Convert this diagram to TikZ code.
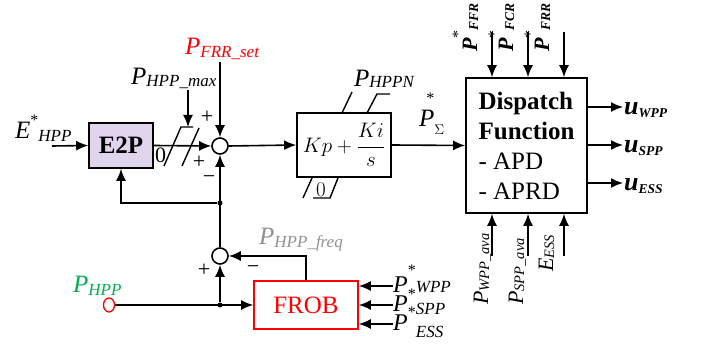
\documentclass[tikz,border=0pt]{standalone}
\usepackage{fix-cm}
\usepackage[no-math]{fontspec}
\setmainfont{Liberation Serif}
\usetikzlibrary{arrows.meta,positioning,shapes.geometric}

\definecolor{e2pfill}{RGB}{225,213,238}
\definecolor{frrred}{RGB}{255,0,0}
\definecolor{hppgreen}{RGB}{0,176,80}
\definecolor{freqgray}{RGB}{145,145,145}

% small sub- and superscripts
\newcommand\ssub[2][-3pt]{\raisebox{#1}{\fontsize{17}{17}\selectfont #2}}
\newcommand\tsub[2][-1pt]{\raisebox{#1}{\fontsize{13.5}{14}\selectfont #2}}
\newcommand\sstar[1][11pt]{\raisebox{#1}{\fontsize{16}{16}\selectfont *}}

\tikzset{
    blk/.style={draw, line width=1.6pt, inner sep=0pt},
    sumnode/.style={circle, draw, line width=1.6pt, minimum size=16pt, inner sep=0pt},
    sig/.style={line width=1.6pt, -{Latex[length=12pt,width=10pt]}},
    wire/.style={line width=1.4pt},
    lbl/.style={inner sep=0pt, font=\fontsize{25}{25}\selectfont},
    rlbl/.style={inner sep=0pt, rotate=90, anchor=base west, font=\fontsize{22}{22}\selectfont},
    signtxt/.style={inner sep=0pt, font=\fontsize{22}{22}\selectfont},
    jdot/.style={circle, fill, minimum size=5pt, inner sep=0pt},
}

\begin{document}
\begin{tikzpicture}[x=1pt, y=-1pt]
    \useasboundingbox (0,0) rectangle (702,344);
    % Blocks
    \node[blk, fill=e2pfill, minimum width=64pt, minimum height=45pt,
          font=\fontsize{25}{25}\selectfont\bfseries] (e2p) at (121,145.5) {E2P};
    \node[sumnode] (sum1) at (220,146) {};
    \node[blk, minimum width=94pt, minimum height=64pt,
          font=\fontsize{21}{21}\selectfont] (pi) at (344,145) {$\displaystyle Kp+\frac{Ki}{s}$};
    \node[blk, minimum width=121pt, minimum height=135pt, align=left,
          font=\fontsize{25}{30}\selectfont] (disp) at (526.5,145.5)
          {\textbf{Dispatch}\\\textbf{Function}\\- APD\\- APRD};
    \node[sumnode] (sum2) at (220,256) {};
    \node[blk, draw=frrred, text=frrred, minimum width=104pt, minimum height=48pt,
          font=\fontsize{25}{25}\selectfont] (frob) at (306,305) {FROB};
    \node[ellipse, draw=frrred, line width=1.3pt, minimum width=11pt,
          minimum height=14pt, inner sep=0pt] (hpp) at (109,305) {};
    % Junctions and free ends
    \node[jdot] (fdot) at (220,203) {};
    \node[jdot] (hdot) at (220,305) {};
    \coordinate (ein) at (52,146);
    \coordinate (frrtop) at (220,62);
    \coordinate (maxtop) at (188,90);
    \coordinate (maxend) at (188,127);
    % Upper loop
    \draw[sig] (ein) -- (e2p.west);
    \draw[sig] (e2p.east) -- (sum1.west);
    \draw[sig] (frrtop) -- (sum1.north);
    \draw[sig] (maxtop) -- (maxend);
    \draw[sig] (sum2.north) -- (sum1.south);
    \draw[sig] (fdot) -| (e2p.south);
    \draw[sig] (sum1.east) -- (pi.west);
    \draw[sig] (pi.east) -- (disp.west);
    % Limiter
    \draw[wire] (164,166) -- (181,127) -- (maxend) -- (193,127);
    \draw[wire] (182,166) -- (199,128);
    \node[signtxt] (zero1) at (160.5,155.5) {0};
    \draw[wire] (342,113) -- (352,92);
    \draw[wire] (367,113) -- (377,94) -- (390,94);
    \draw[wire] (303,198) -- (312,178);
    \draw[wire] (313,198) -- (330,198) -- (338,178);
    \node[signtxt, font=\fontsize{21}{21}\selectfont] (zero2) at (321,190) {$0$};
    % Lower loop
    \draw[sig] (hpp.east) -- (frob.west);
    \draw[sig] (hdot) -- (sum2.south);
    \draw[sig] (frob.north) |- (sum2.east);
    \foreach \y/\n in {286/pw,305/ps,324/pe}{
        \coordinate (\n) at (393,\y);
        \draw[sig] (\n) -- (\n -| frob.east);
    }
    % Dispatch inputs and outputs
    \foreach \x/\n in {492/ffr,528/fcr,564/frr}{
        \coordinate (\n) at (\x,32);
        \draw[sig] (\n) -- (\n |- disp.north);
        \coordinate (\n b) at (\x,256);
        \draw[sig] (\n b) -- (\n b |- disp.south);
    }
    \foreach \y/\n in {107/uw,145/us,183/ue}{
        \coordinate (\n) at (623,\y);
        \draw[sig] (\n -| disp.east) -- (\n);
    }
    % Signs
    \node[signtxt] (p1) at (207,117) {+};
    \node[signtxt] (p2) at (199,162) {+};
    \node[signtxt] (m1) at (209,180) {−};
    \node[signtxt] (p3) at (204,270) {+};
    \node[signtxt] (m2) at (253,270) {−};
    % Labels
    \node[lbl, anchor=base west] (lE) at (15,139) {\textit{E}\sstar[13.5pt]\ssub{\textit{HPP}}};
    \node[lbl, anchor=base west] (lmax) at (131,85) {\textit{P}\ssub[-2pt]{\textit{HPP\_max}}};
    \node[lbl, anchor=base west, text=frrred] (lfrr) at (185,55) {\textit{P}\ssub{\textit{FRR\_set}}};
    \node[lbl, anchor=base west] (lhppn) at (354,87) {\textit{P}\ssub[-1pt]{\textit{HPPN}}};
    \node[lbl, anchor=base west] (lsum) at (419,127)
        {\textit{P}\llap{\raisebox{23pt}{\fontsize{16}{16}\selectfont *}}\raisebox{-8pt}{\fontsize{14}{14}\selectfont$\Sigma$}};
    \node[lbl, anchor=base west, text=hppgreen] (lhpp) at (73,293) {\textit{P}\ssub{\textit{HPP}}};
    \node[lbl, anchor=base west, text=freqgray] (lfreq) at (259,245) {\textit{P}\ssub{\textit{HPP\_freq}}};
    \node[lbl, anchor=base west, font=\fontsize{24}{24}\selectfont] (lpw) at (393,293)
        {\textit{P}\sstar[17pt]\ssub[0pt]{\textit{WPP}}};
    \node[lbl, anchor=base west, font=\fontsize{24}{24}\selectfont] (lps) at (393,312)
        {\textit{P}\sstar[12.5pt]\ssub{\textit{SPP}}};
    \node[lbl, anchor=base west, font=\fontsize{24}{24}\selectfont] (lpe) at (393,331)
        {\textit{P}\sstar[13.5pt]\ssub[-7pt]{\textit{ESS}}};
    \node[rlbl] (lffr) at (477,52) {\textbf{\textit{P}}\sstar[14pt]\tsub{\textbf{\textit{FFR}}}};
    \node[rlbl] (lfcr) at (513,52) {\textbf{\textit{P}}\sstar[14pt]\tsub{\textbf{\textit{FCR}}}};
    \node[rlbl] (lfrr) at (549,52) {\textbf{\textit{P}}\sstar[14pt]\tsub{\textbf{\textit{FRR}}}};
    \node[rlbl] (lwa) at (488,305) {\textit{P}\tsub[-1pt]{\fontsize{14.5}{15}\selectfont\textit{WPP\_ava}}};
    \node[rlbl] (lsa) at (523,305) {\textit{P}\tsub[-1pt]{\fontsize{14.5}{15}\selectfont\textit{SPP\_ava}}};
    \node[rlbl] (lea) at (553,272) {\textit{E}\tsub[-1pt]{\fontsize{14.5}{15}\selectfont\textit{ESS}}};
    \node[lbl, anchor=base west, font=\fontsize{26}{26}\selectfont] (luw) at (624,115)
        {\textbf{\textit{u}}\tsub[-3pt]{\textbf{\textit{WPP}}}};
    \node[lbl, anchor=base west, font=\fontsize{26}{26}\selectfont] (lus) at (624,153)
        {\textbf{\textit{u}}\tsub[-3pt]{\textbf{\textit{SPP}}}};
    \node[lbl, anchor=base west, font=\fontsize{26}{26}\selectfont] (lue) at (624,191)
        {\textbf{\textit{u}}\tsub[-3pt]{\textbf{\textit{ESS}}}};
\end{tikzpicture}
\end{document}
